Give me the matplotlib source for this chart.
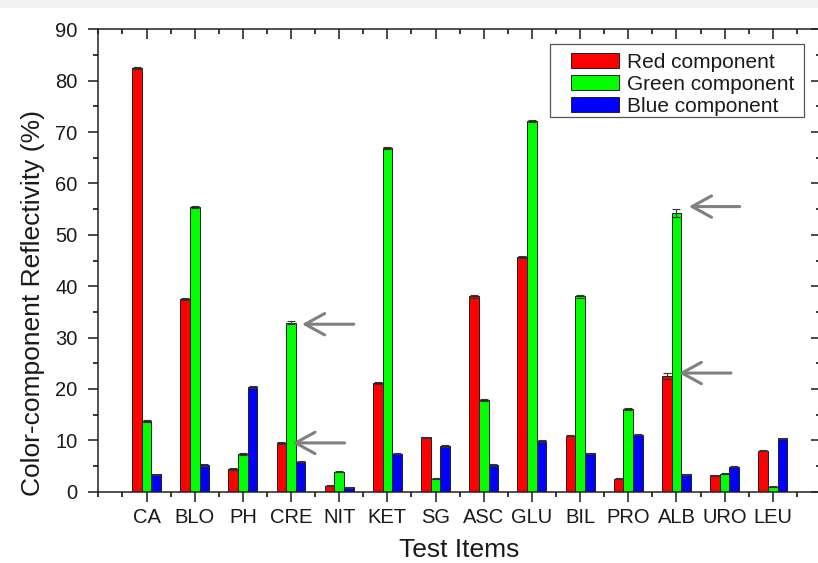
import matplotlib
matplotlib.use('Agg')
import matplotlib.pyplot as plt
import numpy as np
from matplotlib.ticker import MultipleLocator

plt.rcParams['font.family'] = ['Liberation Sans', 'DejaVu Sans']

itens = ['CA', 'BLO', 'PH', 'CRE', 'NIT', 'KET', 'SG', 'ASC', 'GLU', 'BIL', 'PRO', 'ALB', 'URO', 'LEU']
vermelho = [82.4, 37.5, 4.5, 9.4, 1.2, 21.1, 10.6, 38.0, 45.7, 10.9, 2.5, 22.6, 3.2, 8.0]
verde = [13.7, 55.5, 7.4, 32.9, 3.9, 66.9, 2.5, 17.9, 72.2, 38.0, 16.1, 54.3, 3.5, 1.0]
azul = [3.4, 5.2, 20.3, 5.8, 0.9, 7.4, 8.9, 5.2, 9.8, 7.5, 11.1, 3.4, 4.9, 10.4]
erro_vermelho = [0.2, 0.2, 0.2, 0.2, 0.1, 0.2, 0.1, 0.2, 0.2, 0.1, 0.1, 0.6, 0.1, 0.1]
erro_verde = [0.2, 0.2, 0.2, 0.3, 0.1, 0.2, 0.1, 0.2, 0.2, 0.2, 0.1, 0.8, 0.1, 0.1]
erro_azul = [0.1, 0.1, 0.2, 0.1, 0.1, 0.1, 0.1, 0.1, 0.2, 0.1, 0.1, 0.1, 0.1, 0.1]

# setas (x ponta, x cauda, y) em coordenadas de dados
setas = [(3.97, 5.17, 9.5), (4.17, 5.36, 32.6), (11.99, 13.19, 23.1), (12.20, 13.37, 55.5)]

fig = plt.figure(figsize=(8.18, 5.63), dpi=100)
fig.patches.append(plt.Rectangle((0, 0.988), 1, 0.012, transform=fig.transFigure,
                                 color='#f1f1f1', zorder=0))
ax = fig.add_axes([0.1202, 0.1266, 0.8835, 0.8213])

x = np.arange(1, len(itens) + 1)
w = 0.2
err_kw = dict(ecolor='#333333', elinewidth=0.8, capsize=3, capthick=0.8)
ax.bar(x - w, vermelho, w, yerr=erro_vermelho, color='#ff0000', edgecolor='#222222',
       linewidth=0.7, label='Red component', error_kw=err_kw)
ax.bar(x, verde, w, yerr=erro_verde, color='#00ff00', edgecolor='#222222',
       linewidth=0.7, label='Green component', error_kw=err_kw)
ax.bar(x + w, azul, w, yerr=erro_azul, color='#0000ff', edgecolor='#222222',
       linewidth=0.7, label='Blue component', error_kw=err_kw)

for ponta, cauda, y in setas:
    ax.annotate('', xy=(ponta, y), xytext=(cauda, y),
                arrowprops=dict(arrowstyle='->,head_length=1.0,head_width=0.55',
                                color='#808080', lw=2.2, mutation_scale=14))

ax.set_xlim(0, 15)
ax.set_ylim(0, 90)
ax.set_xticks(x)
ax.set_xticklabels(itens)
ax.xaxis.set_minor_locator(MultipleLocator(0.5))
ax.yaxis.set_major_locator(MultipleLocator(10))
ax.yaxis.set_minor_locator(MultipleLocator(5))

ax.tick_params(axis='both', which='major', length=7, width=1.1, labelsize=14.5,
               colors='#1a1a1a', pad=5)
ax.tick_params(axis='y', which='major', pad=8)
ax.tick_params(axis='both', which='minor', length=3.5, width=1.1)
ax.tick_params(axis='x', which='both', top=True, direction='out')
ax.tick_params(axis='y', which='both', right=True, direction='out')
# ticks de cima e da direita para dentro
for t in ax.xaxis.get_major_ticks() + ax.xaxis.get_minor_ticks():
    t.tick2line.set_marker(3)
for t in ax.yaxis.get_major_ticks() + ax.yaxis.get_minor_ticks():
    t.tick2line.set_marker(0)
for s in ax.spines.values():
    s.set_linewidth(1.1)
    s.set_color('#222222')

ax.set_xlabel('Test Items', fontsize=19, color='#1a1a1a')
ax.set_ylabel('Color-component Reflectivity (%)', fontsize=19, color='#1a1a1a')
ax.xaxis.set_label_coords(0.5, -0.100)
ax.yaxis.set_label_coords(-0.074, 0.408)

# legenda sem moldura; a moldura vai como retângulo à parte
leg = ax.legend(loc='center left', bbox_to_anchor=(0.654, 0.881), borderaxespad=0,
                borderpad=0, frameon=False, fontsize=15,
                handlelength=2.3, handleheight=0.72, handletextpad=0.38,
                labelspacing=0.14)
for txt in leg.get_texts():
    txt.set_color('#1a1a1a')
ax.add_patch(plt.Rectangle((0.625, 0.8103), 0.3515, 0.1577, transform=ax.transAxes,
                           fill=False, edgecolor='#555555', linewidth=0.9, zorder=5))

plt.savefig('out.png', dpi=100)
